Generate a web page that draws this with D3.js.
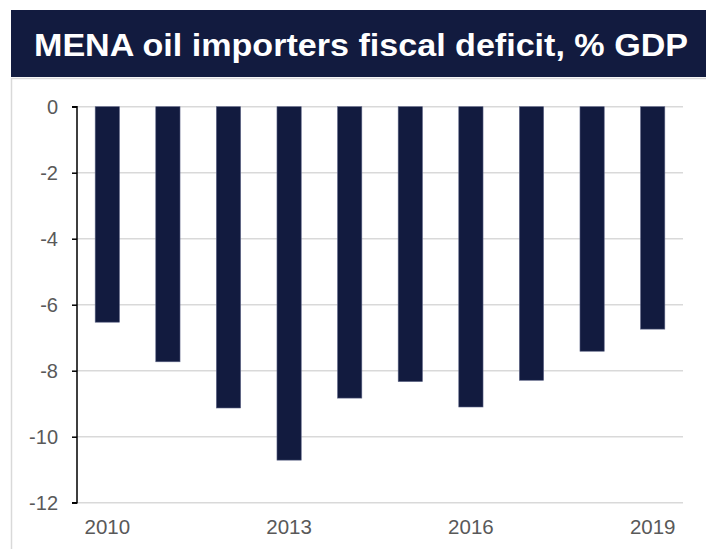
<!DOCTYPE html>
<html>
<head>
<meta charset="utf-8">
<script src="https://cdn.jsdelivr.net/npm/d3@7"></script>
<style>
  body { margin: 0; background: #fff; }
  text { font-family: Arial, "Liberation Sans", sans-serif; }
</style>
</head>
<body>
<svg id="chart"></svg>
<script>
// data
let years = ['2010', '2011', '2012', '2013', '2014', '2015', '2016', '2017', '2018', '2019'];
let deficit = [-6.53, -7.73, -9.13, -10.71, -8.83, -8.33, -9.1, -8.29, -7.41, -6.74];
let yTicks = [0, -2, -4, -6, -8, -10, -12];
let xLabels = ['2010', '2013', '2016', '2019'];
let title = 'MENA oil importers fiscal deficit, % GDP';

// sizes
let widthSVG = 706;
let heightSVG = 549;
let margins = { top: 106.7, bottom: 46.3, left: 77, right: 23 };

let navy = '#121b3f';

let SVG = d3.select('svg#chart')
  .attr('width', widthSVG)
  .attr('height', heightSVG);

// title banner
SVG.append('rect')
  .attr('x', 11).attr('y', 10)
  .attr('width', widthSVG - 11).attr('height', 67)
  .style('fill', navy);

SVG.append('text')
  .text(title)
  .attr('x', 34)
  .attr('y', 56)
  .attr('textLength', 654)
  .attr('lengthAdjust', 'spacingAndGlyphs')
  .style('fill', '#fff')
  .style('font-weight', 'bold')
  .style('font-size', '32px');

// light frame round the chart
SVG.append('rect')
  .attr('x', 11.5).attr('y', 78.5)
  .attr('width', widthSVG).attr('height', heightSVG)
  .style('fill', 'none')
  .style('stroke', '#d9d9d9')
  .style('stroke-width', '1.5px');

// scales
let x = d3.scaleBand()
  .domain(years)
  .range([margins.left, widthSVG - margins.right])
  .paddingInner(0.6)
  .paddingOuter(0.3);

let y = d3.scaleLinear()
  .domain([0, -12])
  .range([margins.top, heightSVG - margins.bottom]);

// gridlines
SVG.append('g')
  .attr('class', 'grid')
  .selectAll('line')
  .data(yTicks)
  .enter()
  .append('line')
  .attr('x1', margins.left)
  .attr('x2', widthSVG - margins.right)
  .attr('y1', d => y(d))
  .attr('y2', d => y(d))
  .style('stroke', '#d9d9d9')
  .style('stroke-width', '1.5px');

// bars
SVG.append('g')
  .selectAll('rect')
  .data(deficit)
  .enter()
  .append('rect')
  .attr('x', (d, i) => x(years[i]))
  .attr('y', y(0))
  .attr('width', x.bandwidth())
  .attr('height', d => y(d) - y(0))
  .style('fill', navy)
  .style('stroke', '#5c6385')
  .style('stroke-width', '0.6px');

// y axis
let yAxis = d3.axisLeft(y)
  .tickValues(yTicks)
  .tickSize(5)
  .tickPadding(14)
  .tickFormat(d => d === 0 ? '0' : '-' + Math.abs(d));

let yG = SVG.append('g')
  .attr('transform', `translate(${margins.left}, 0)`)
  .call(yAxis);

yG.select('.domain')
  .attr('d', `M-5,${y(0)}H0V${y(-12)}H-5`)
  .style('stroke', '#000')
  .style('stroke-width', '1.5px');
yG.selectAll('.tick line').style('stroke', '#000').style('stroke-width', '1.5px');
yG.selectAll('.tick text')
  .style('font-size', '20px')
  .style('fill', '#595959')
  .attr('dy', '0.36em');

// x axis, only every third year labelled
let xAxis = d3.axisBottom(x)
  .tickValues(xLabels)
  .tickSize(0)
  .tickPadding(17);

let xG = SVG.append('g')
  .attr('transform', `translate(0, ${y(-12)})`)
  .call(xAxis);

xG.select('.domain').remove();
xG.selectAll('.tick text')
  .style('font-size', '20.5px')
  .style('fill', '#595959');
</script>
</body>
</html>
